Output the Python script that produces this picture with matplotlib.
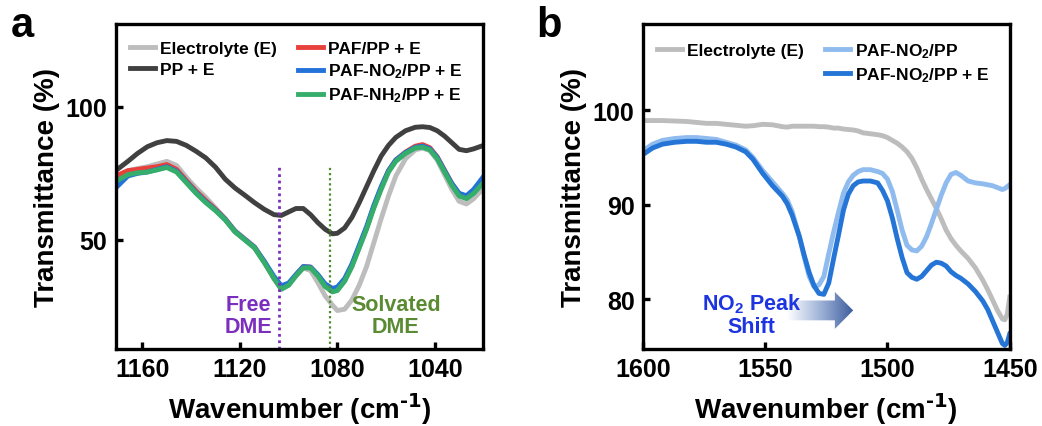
import numpy as np
import matplotlib
matplotlib.use('Agg')
import matplotlib.pyplot as plt
from matplotlib.lines import Line2D
from matplotlib.patches import FancyArrow
from matplotlib.colors import LinearSegmentedColormap

plt.rcParams['font.family'] = ['Liberation Sans', 'DejaVu Sans']
plt.rcParams['font.weight'] = 'bold'
plt.rcParams['axes.labelweight'] = 'bold'
plt.rcParams['mathtext.default'] = 'regular'

# ---- panel a: 1020-1171 cm-1 region ----
wn_a = [1171, 1166, 1162, 1158, 1154, 1150, 1146, 1142, 1138, 1134, 1130, 1126, 1122, 1118,
        1114, 1110, 1106, 1103, 1100, 1097, 1094, 1091, 1088, 1085, 1082, 1080, 1077, 1074,
        1071, 1068, 1065, 1062, 1059, 1056, 1052, 1048, 1045, 1042, 1039, 1036, 1033, 1030,
        1027, 1024, 1020]
electrolyte_a = [73.5, 76, 76.8, 77.5, 78.5, 79.5, 78, 73.5, 69.5, 66, 62, 58, 53.5, 50.5,
                 47.5, 42, 35.5, 31.5, 33, 36.5, 39.5, 38.5, 34, 29, 25.5, 23.5, 24, 27.5,
                 33, 40, 49, 58, 66.5, 74, 80.5, 83.8, 84.5, 83.5, 80, 74.5, 69, 64.5,
                 63.5, 65.5, 69.5]
pp_e = [76, 79.5, 82.5, 85, 86.5, 87.3, 87, 85.5, 83.3, 80.8, 77.3, 72.8, 69.5, 66.8,
        64, 61.5, 59.5, 59.2, 60.5, 61.8, 61.8, 59.5, 56.5, 54, 52.3, 52.5, 54.5, 58.5,
        64, 70, 76, 81.5, 85.5, 88.5, 91, 92.3, 92.5, 92.2, 91, 89, 86.5, 84,
        83.5, 84.2, 85.5]
paf_e = [74, 76, 76.5, 77, 77.5, 78.3, 76.5, 72.3, 68.3, 64.8, 61.5, 57.8, 53.2, 50.2,
         47.2, 41.7, 35.7, 31.8, 33.3, 36.8, 40, 39.8, 36.8, 32.8, 30.8, 31.3, 34.8, 40.5,
         47.5, 54.5, 62.5, 69.5, 76, 80, 83, 85.2, 85.8, 84.6, 81.2, 76.2, 71.2, 67.3,
         66.3, 68.2, 72.2]
paf_no2_e = [69.5, 74, 75, 75.5, 76.5, 77.5, 75.8, 71.8, 67.8, 64.3, 61.2, 57.7, 53.2, 50.2,
             47.2, 42, 36.3, 32.8, 33.8, 37, 40, 39.8, 37, 33.5, 31.8, 32.3, 35.5, 41,
             48, 55, 63, 70, 76, 80, 82.8, 84.8, 85.2, 84.2, 81, 76, 71.2, 67.5,
             66.6, 69, 73.8]
paf_nh2_e = [72, 74.5, 75.2, 75.5, 76.3, 77.2, 75.5, 71.5, 67.5, 64, 61, 57.5, 53, 50,
             47, 41.5, 35.5, 31.5, 33, 36.5, 39.5, 39.5, 36.5, 32.5, 30.5, 31, 34.5, 40,
             47, 54, 62, 69, 75.5, 79.5, 82.5, 84.5, 84.8, 83.8, 80.5, 75.5, 70.5, 66.5,
             65.5, 67.5, 71.5]
free_dme = 1104
solvated_dme = 1083

# ---- panel b: 1450-1600 cm-1 region ----
wn_b = [1600, 1596, 1592, 1587, 1582, 1578, 1574, 1570, 1566, 1562, 1558, 1555, 1551, 1547,
        1543, 1541, 1539, 1536, 1534, 1532, 1530, 1528, 1526, 1524, 1522, 1520, 1518, 1516,
        1514, 1512, 1510, 1507, 1504, 1502, 1500, 1498, 1496, 1494, 1492, 1490, 1488, 1486,
        1484, 1482, 1480, 1478, 1476, 1474, 1472, 1470, 1467, 1464, 1461, 1459, 1457, 1455,
        1453, 1452, 1451, 1450]
electrolyte_b = [98.9, 98.9, 98.9, 98.85, 98.8, 98.7, 98.6, 98.6, 98.5, 98.4, 98.3, 98.35, 98.5, 98.45,
                 98.25, 98.2, 98.3, 98.3, 98.3, 98.3, 98.3, 98.25, 98.25, 98.2, 98.1, 98.1, 98.0, 97.95,
                 97.9, 97.8, 97.6, 97.5, 97.4, 97.3, 97.1, 96.8, 96.5, 96.1, 95.6, 94.9, 93.9, 92.7,
                 91.6, 90.6, 89.6, 88.5, 87.3, 86.4, 85.7, 85.1, 84.3, 83.3, 82.0, 81.0, 79.9, 78.8,
                 77.9, 77.8, 78.4, 80.2]
paf_no2_pp = [95.7, 96.4, 96.8, 97.0, 97.1, 97.1, 97.0, 96.9, 96.6, 96.3, 95.8, 95.0, 93.6, 92.4,
              91.2, 90.5, 89.3, 86.6, 84.4, 82.4, 81.3, 81.5, 82.4, 84.8, 87.1, 89.2, 91.2, 92.4,
              93.1, 93.5, 93.7, 93.7, 93.5, 93.3, 92.7, 91.4, 89.4, 87.3, 85.7, 85.2, 85.1, 85.6,
              86.6, 88.0, 89.5, 91.0, 92.3, 93.2, 93.4, 93.1, 92.5, 92.3, 92.2, 92.1, 92.0, 91.8,
              91.6, 91.7, 91.9, 92.1]
paf_no2_pp_e = [95.3, 96.0, 96.4, 96.6, 96.7, 96.7, 96.6, 96.6, 96.4, 96.1, 95.6, 94.8, 93.3, 92.0,
                90.9, 90.1, 88.9, 86.6, 84.6, 82.8, 81.4, 80.6, 80.5, 81.7, 84.3, 86.8, 89.4, 91.1,
                92.0, 92.4, 92.5, 92.5, 92.3, 91.5, 90.4, 88.6, 86.4, 84.4, 82.8, 82.3, 82.1, 82.4,
                83.0, 83.6, 83.9, 83.8, 83.5, 82.9, 82.5, 82.2, 81.6, 80.8, 79.8, 78.9, 77.7, 76.5,
                75.3, 75.1, 75.4, 76.3]
arrow_start = 1541
arrow_end = 1514
arrow_y = 78.8

c_elec = '#bdbdbd'
c_pp = '#404040'
c_red = '#e8413c'
c_blue = '#2372d9'
c_green = '#35ad6b'
c_light = '#8fbbee'
c_dblue = '#2475d6'
lw = 3.5

fig = plt.figure(figsize=(10.42, 4.27), dpi=100)
ax1 = fig.add_axes([0.111, 0.180, 0.353, 0.761])
ax2 = fig.add_axes([0.617, 0.180, 0.352, 0.761])

ax1.plot(wn_a, electrolyte_a, color=c_elec, lw=lw, label='Electrolyte (E)')
ax1.plot(wn_a, pp_e, color=c_pp, lw=lw, label='PP + E')
ax1.plot(wn_a, paf_e, color=c_red, lw=lw, label='PAF/PP + E')
ax1.plot(wn_a, paf_no2_e, color=c_blue, lw=lw, label='PAF-NO$_2$/PP + E')
ax1.plot(wn_a, paf_nh2_e, color=c_green, lw=lw, label='PAF-NH$_2$/PP + E')
ax1.plot([free_dme, free_dme], [9, 78], color='#7b2fbf', lw=2, ls=(0, (1, 1.3)))
ax1.plot([solvated_dme, solvated_dme], [9, 78], color='#4f8a2b', lw=1.6, ls=(0, (1, 1.3)))
ax1.text(1116.5, 21.5, 'Free\nDME', color='#7b2fbf', fontsize=15.5, ha='center', va='center',
         linespacing=1.05)
ax1.text(1056, 21.5, 'Solvated\nDME', color='#5a8a32', fontsize=15.5, ha='center', va='center',
         linespacing=1.05)
ax1.set_xlim(1171, 1020)
ax1.set_ylim(9, 131)
ax1.set_xticks([1160, 1120, 1080, 1040])
ax1.set_yticks([50, 100])

h1, l1 = ax1.get_legend_handles_labels()
blank = Line2D([], [], color='none')
handles_a = [h1[0], h1[1], blank, h1[2], h1[3], h1[4]]
labels_a = [l1[0], l1[1], '', l1[2], l1[3], l1[4]]
leg_kw = dict(ncol=2, loc='upper left', bbox_to_anchor=(0.0, 0.99), frameon=False,
              fontsize=12.5, handlelength=1.45, handletextpad=0.3, columnspacing=1.2,
              labelspacing=0.3, borderaxespad=0.4)
ax1.legend(handles_a, labels_a, **leg_kw)

ax2.plot(wn_b, electrolyte_b, color=c_elec, lw=lw, label='Electrolyte (E)')
ax2.plot(wn_b, paf_no2_pp, color=c_light, lw=lw, label='PAF-NO$_2$/PP')
ax2.plot(wn_b, paf_no2_pp_e, color=c_dblue, lw=lw, label='PAF-NO$_2$/PP + E')

h2, l2 = ax2.get_legend_handles_labels()
ax2.legend([h2[0], blank, h2[1], h2[2]], [l2[0], '', l2[1], l2[2]], **leg_kw)

# gradient arrow for the peak shift
arr = FancyArrow(arrow_start, arrow_y, arrow_end - arrow_start, 0, width=2.1, head_width=3.9,
                 head_length=7.5, length_includes_head=True, transform=ax2.transData,
                 facecolor='none', edgecolor='none')
ax2.add_patch(arr)
grad = np.linspace(0, 1, 256).reshape(1, -1)
cmap = LinearSegmentedColormap.from_list('fade', ['#ffffff', '#9fb3d8', '#3b5c9c'])
im = ax2.imshow(grad, cmap=cmap, aspect='auto', extent=[arrow_start, arrow_end, arrow_y - 2.2,
                arrow_y + 2.2], zorder=1, interpolation='bilinear')
im.set_clip_path(arr)
ax2.set_xlim(1600, 1450)
ax2.set_ylim(74.7, 109.1)
ax2.set_xticks([1600, 1550, 1500, 1450])
ax2.set_yticks([80, 90, 100])
ax2.text(1555.5, 78.4, 'NO$_2$ Peak\nShift', color='#1d35e0', fontsize=15.5, ha='center',
         va='center', linespacing=1.05, zorder=3)

for ax in (ax1, ax2):
    for s in ax.spines.values():
        s.set_linewidth(2.4)
    ax.tick_params(direction='in', length=5, width=2.4, labelsize=18, pad=6,
                   top=False, right=False)
    ax.set_xlabel(r'Wavenumber (cm$^{\text{-1}}$)', fontsize=20, labelpad=7)
    ax.set_ylabel('Transmittance (%)', fontsize=20, labelpad=4)

fig.text(0.010, 0.985, 'a', fontsize=30, fontweight='bold', va='top', ha='left')
fig.text(0.515, 0.985, 'b', fontsize=30, fontweight='bold', va='top', ha='left')

fig.savefig('out.png', dpi=100)
